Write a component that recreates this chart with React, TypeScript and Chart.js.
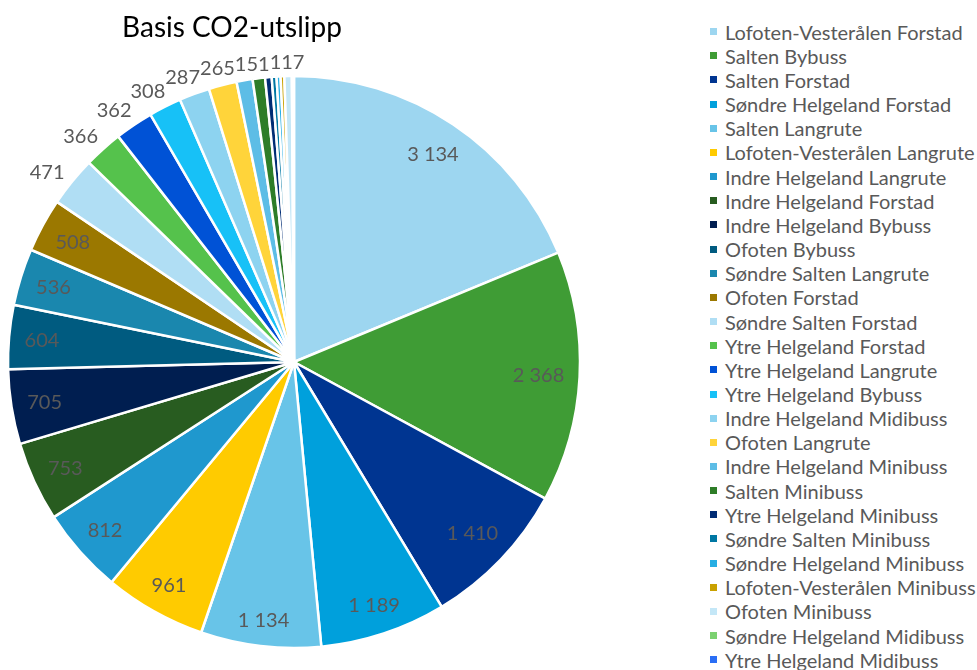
import React, { useEffect, useRef } from "react";
import { Chart, registerables } from "chart.js";

Chart.register(...registerables);

// Routes (region + service type), in drawing order
const routes: string[] = [
  "Lofoten-Vesterålen Forstad",
  "Salten Bybuss",
  "Salten Forstad",
  "Søndre Helgeland Forstad",
  "Salten Langrute",
  "Lofoten-Vesterålen Langrute",
  "Indre Helgeland Langrute",
  "Indre Helgeland Forstad",
  "Indre Helgeland Bybuss",
  "Ofoten Bybuss",
  "Søndre Salten Langrute",
  "Ofoten Forstad",
  "Søndre Salten Forstad",
  "Ytre Helgeland Forstad",
  "Ytre Helgeland Langrute",
  "Ytre Helgeland Bybuss",
  "Indre Helgeland Midibuss",
  "Ofoten Langrute",
  "Indre Helgeland Minibuss",
  "Salten Minibuss",
  "Ytre Helgeland Minibuss",
  "Søndre Salten Minibuss",
  "Søndre Helgeland Minibuss",
  "Lofoten-Vesterålen Minibuss",
  "Ofoten Minibuss",
  "Søndre Helgeland Midibuss",
  "Ytre Helgeland Midibuss",
];

// Baseline CO2 emissions per route
const emissions: number[] = [
  3134, 2368, 1410, 1189, 1134, 961, 812, 753, 705, 604, 536, 508, 471, 366,
  362, 308, 287, 265, 151, 117, 62, 45, 38, 35, 70, 12, 8,
];

const sliceColors: string[] = [
  "#9dd6f0",
  "#3f9c35",
  "#003591",
  "#00a0dc",
  "#68c4e8",
  "#ffcb00",
  "#1f98ce",
  "#285c20",
  "#001e50",
  "#005b80",
  "#1a87ae",
  "#9b7800",
  "#b0def4",
  "#55c24c",
  "#0052d6",
  "#17c1f7",
  "#8dd3f0",
  "#ffd43a",
  "#5dbde6",
  "#2e7d28",
  "#002c74",
  "#0077a3",
  "#27aee3",
  "#c9a100",
  "#c4e7f7",
  "#7bd170",
  "#2a6ef5",
];

const TITLE = "Basis CO2-utslipp";

const FONT = "Lato, 'Open Sans', sans-serif";
const LABEL_SIZE = 20;
const LABEL_COLOR = "#595959";
const INSIDE_MIN = 500; // slices at least this large carry their label inside
const LABEL_MIN = 100; // smaller slices get no label

function formatValue(v: number): string {
  if (v < 1000) return String(v);
  return `${Math.floor(v / 1000)} ${String(v % 1000).padStart(3, "0")}`;
}

// Draws the value labels: inside the outer end of big slices, just outside
// the rim for smaller ones, nudged clockwise so neighbours do not collide.
const sliceLabels = {
  id: "sliceLabels",
  afterDatasetsDraw(chart: any) {
    const ctx: CanvasRenderingContext2D = chart.ctx;
    const meta = chart.getDatasetMeta(0);
    const values = chart.data.datasets[0].data as number[];
    ctx.save();
    ctx.font = `${LABEL_SIZE}px ${FONT}`;
    ctx.fillStyle = LABEL_COLOR;
    ctx.textAlign = "center";
    ctx.textBaseline = "alphabetic";
    const h = LABEL_SIZE * 0.8;
    const placed: { text: string; cx: number; cy: number; w: number }[] = [];
    let prevOut: { l: number; r: number; t: number; b: number } | null = null;
    meta.data.forEach((arc: any, i: number) => {
      const v = values[i];
      if (v < LABEL_MIN) return;
      const { x, y, startAngle, endAngle, outerRadius } = arc.getProps(
        ["x", "y", "startAngle", "endAngle", "outerRadius"],
        true
      );
      const text = formatValue(v);
      const w = ctx.measureText(text).width;
      const inside = v >= INSIDE_MIN;
      let mid = (startAngle + endAngle) / 2;
      if (!inside) mid -= (1.5 * Math.PI) / 180;
      const ux = Math.cos(mid);
      const uy = Math.sin(mid);
      const ext = (Math.abs(ux) * w) / 2 + (Math.abs(uy) * h) / 2;
      const d = inside ? outerRadius - 15 - ext : outerRadius + 7 + ext;
      let cx = x + ux * d;
      const cy = y + uy * d;
      if (!inside) {
        let box = { l: cx - w / 2, r: cx + w / 2, t: cy - h / 2, b: cy + h / 2 };
        if (
          prevOut &&
          box.l < prevOut.r &&
          box.r > prevOut.l &&
          box.t < prevOut.b &&
          box.b > prevOut.t
        ) {
          const shift = prevOut.r - box.l;
          cx += shift;
          box = { l: box.l + shift, r: box.r + shift, t: box.t, b: box.b };
        }
        prevOut = box;
      }
      placed.push({ text, cx, cy, w });
    });
    placed.forEach((p) => {
      ctx.fillText(p.text, p.cx, p.cy + LABEL_SIZE * 0.36);
    });
    ctx.restore();
  },
};

export default function App() {
  const canvasRef = useRef<HTMLCanvasElement | null>(null);

  useEffect(() => {
    const canvas = canvasRef.current;
    if (!canvas) return;
    const chart = new Chart(canvas, {
      type: "pie",
      data: {
        labels: routes,
        datasets: [
          {
            data: emissions,
            backgroundColor: sliceColors,
            borderColor: "#ffffff",
            borderWidth: 2.5,
            radius: 286,
          } as any,
        ],
      },
      options: {
        responsive: false,
        animation: false,
        events: [],
        layout: { padding: { left: 0, right: 12, top: 78, bottom: 24 } },
        plugins: {
          legend: { display: false },
          title: { display: false },
          tooltip: { enabled: false },
        },
      },
      plugins: [sliceLabels],
    });
    return () => chart.destroy();
  }, []);

  return (
    <div
      style={{
        position: "fixed",
        left: 0,
        top: 0,
        width: 977,
        height: 670,
        overflow: "hidden",
        background: "#ffffff",
        fontFamily: FONT,
      }}
    >
      <canvas
        ref={canvasRef}
        width={600}
        height={670}
        style={{ position: "absolute", left: 0, top: 0, width: 600, height: 670 }}
      />
      <div
        style={{
          position: "absolute",
          left: 82,
          width: 300,
          top: 12,
          textAlign: "center",
          fontSize: 28,
          lineHeight: "28px",
          color: "#000000",
          whiteSpace: "nowrap",
        }}
      >
        {TITLE}
      </div>
      <div style={{ position: "absolute", left: 710, top: 19.6 }}>
        {routes.map((name, i) => (
          <div
            key={name}
            style={{
              display: "flex",
              alignItems: "center",
              height: 24.17,
              whiteSpace: "nowrap",
            }}
          >
            <span
              style={{
                display: "inline-block",
                width: 7,
                height: 7,
                background: sliceColors[i],
                marginRight: 8,
                flex: "none",
              }}
            />
            <span style={{ fontSize: 20, color: LABEL_COLOR, lineHeight: "24px" }}>
              {name}
            </span>
          </div>
        ))}
      </div>
    </div>
  );
}
